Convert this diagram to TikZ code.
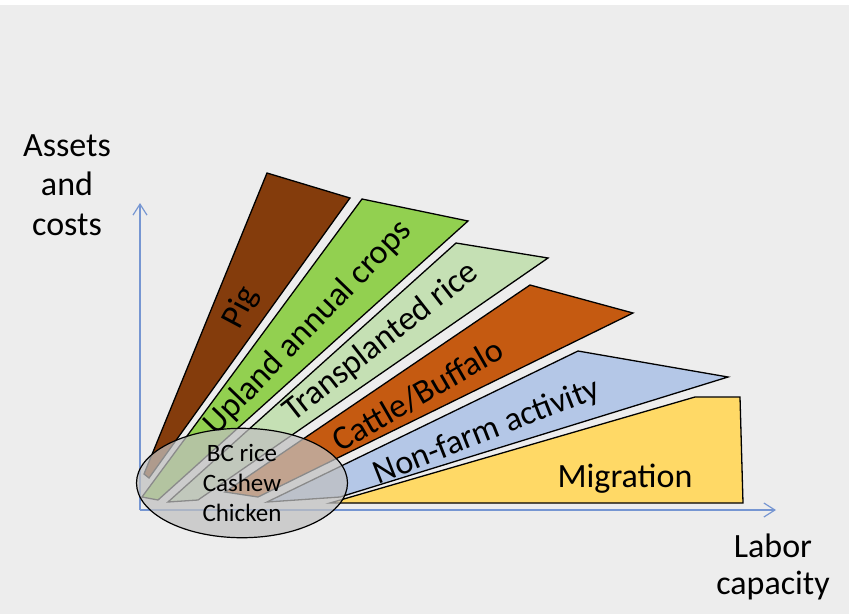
\documentclass[tikz,border=0pt]{standalone}
\usepackage{fontspec}
\setmainfont{Carlito}
\usepackage{xcolor}
\usepackage{tikz}
\usetikzlibrary{calc}
\usetikzlibrary{positioning}
\usetikzlibrary{arrows.meta}
\usetikzlibrary{shapes.geometric}

\definecolor{bggray}{HTML}{EDEDED}
\definecolor{axisblue}{RGB}{118,150,210}
\definecolor{pigbrown}{HTML}{843C0C}
\definecolor{uplandgreen}{HTML}{92D050}
\definecolor{ricegreen}{HTML}{C5E0B4}
\definecolor{cattleorange}{HTML}{C55A11}
\definecolor{farmblue}{HTML}{B4C7E7}
\definecolor{migyellow}{HTML}{FFD966}

\begin{document}
\begin{tikzpicture}[
    x = 1pt,
    y = -1pt,
    font = \fontsize{34}{39.5}\selectfont,
    wedgef/.style = {
      draw=black,
      line width=1.3pt,
      line join=miter
    },
    axisf/.style = {
      draw=axisblue,
      line width=1.2pt,
      -{Straight Barb[length=11pt,width=14pt]}
    },
    labelf/.style = {
      inner sep=0pt
    },
    groupf/.style = {
      ellipse,
      draw=black,
      line width=1.2pt,
      fill={rgb,255:red,192;green,192;blue,192},
      fill opacity=0.72,
      text opacity=1,
      minimum width=211pt,
      minimum height=100pt,
      inner sep=0pt,
      align=center,
      font=\fontsize{25}{30}\selectfont
    }
  ]
    \useasboundingbox (0,0) rectangle (849,614);
    \fill[bggray] (0,5) rectangle (849,614);
    \fill[white] (0,0) rectangle (849,5);

    % axes
    \coordinate (o) at (140,510);
    \coordinate (ytip) at (140,203);
    \coordinate (xtip) at (776,510);
    \draw[axisf] (o) -- (ytip);
    \draw[axisf] (o) -- (xtip);

    \node[align=center] (assets) at (67,185) {Assets\\and\\costs};
    \node[align=center, font=\fontsize{34}{36.5}\selectfont] (labor) at (773,567) {Labor\\capacity};

    % wedges
    \filldraw[wedgef, fill=pigbrown] (144,474) -- (267,173) -- (350,198) -- (149,478) -- cycle;
    \filldraw[wedgef, fill=uplandgreen] (142,497) -- (362,199) -- (468,221) -- (158,500) -- cycle;
    \filldraw[wedgef, fill=ricegreen] (168,502) -- (456,243) -- (548,258) -- (198,500) -- cycle;
    \filldraw[wedgef, fill=cattleorange] (225,492) -- (530,285) -- (633,313) -- (258,497) -- cycle;
    \filldraw[wedgef, fill=farmblue] (267,502) -- (578,351) -- (728,377) -- (340,497) -- cycle;
    \filldraw[wedgef, fill=migyellow] (330,503) -- (695,397) -- (740,397) -- (743,503) -- cycle;

    \node[labelf, rotate=62] (pig) at (241,308) {Pig};
    \node[labelf, rotate=46] (upland) at (308,328) {Upland annual crops};
    \node[labelf, rotate=38] (rice) at (381,342) {Transplanted rice};
    \node[labelf, rotate=30] (cattle) at (418,395) {Cattle/Buffalo};
    \node[labelf, rotate=21.5] (nonfarm) at (487,432) {Non-farm activity};
    \node[labelf, anchor=base] (migration) at (625,487) {Migration};

    % small activities
    \node[groupf] (small) at (242,483) {BC rice\\Cashew\\Chicken};

  \end{tikzpicture}
\end{document}
